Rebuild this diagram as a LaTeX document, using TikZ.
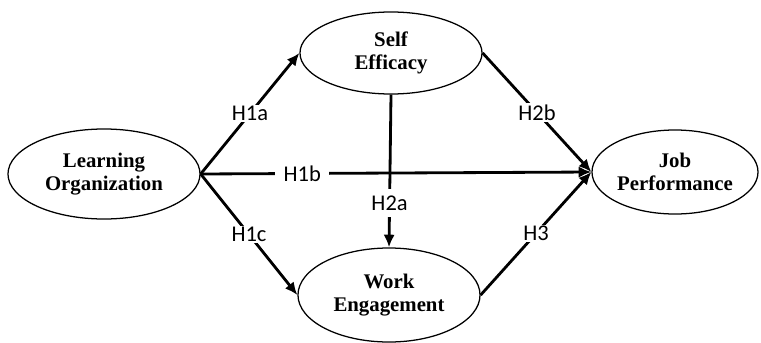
\documentclass[tikz,border=0pt]{standalone}
\usepackage{fontspec}
\setmainfont{Liberation Serif}
\newfontfamily\hypfont{Carlito}
\usetikzlibrary{arrows.meta,shapes.geometric}

\begin{document}
\begin{tikzpicture}[x=0.025cm,y=-0.025cm,
  construct/.style={ellipse,draw,line width=0.9pt,inner sep=0pt,align=center,
    font=\fontsize{14.8}{16.5}\selectfont\bfseries},
  effect/.style={line width=2pt,-{Latex[length=9pt,width=8pt]}},
  hyp/.style={fill=white,inner xsep=6pt,inner ysep=1pt,
    font=\hypfont\fontsize{16}{16}\selectfont}]
\useasboundingbox (0,0) rectangle (761,342);

% constructs
\node[construct,minimum width=4.8cm,minimum height=2.25cm] (learn) at (104,174) {Learning\\Organization};
\node[construct,minimum width=4.55cm,minimum height=2.05cm] (self) at (391,53) {Self\\Efficacy};
\node[construct,minimum width=4.55cm,minimum height=2.35cm] (work) at (389,295) {Work\\Engagement};
\node[construct,minimum width=4.15cm,minimum height=2.1cm] (job) at (675,172) {Job\\Performance};

% hypothesised paths
\draw[effect] (learn.east) -- node[hyp] {H1a} (self.west);
\draw[effect] (learn.east) -- node[hyp,pos=0.26] {H1b} (job.west);
\draw[effect] (learn.east) -- node[hyp] {H1c} (work.west);
\draw[effect] (self.south) -- node[hyp,pos=0.71,inner xsep=2pt,inner ysep=5pt] {H2a} (work.north);
\draw[effect] (self.east) -- node[hyp] {H2b} (job.west);
\draw[effect] (work.east) -- node[hyp] {H3} (job.west);
\end{tikzpicture}
\end{document}
